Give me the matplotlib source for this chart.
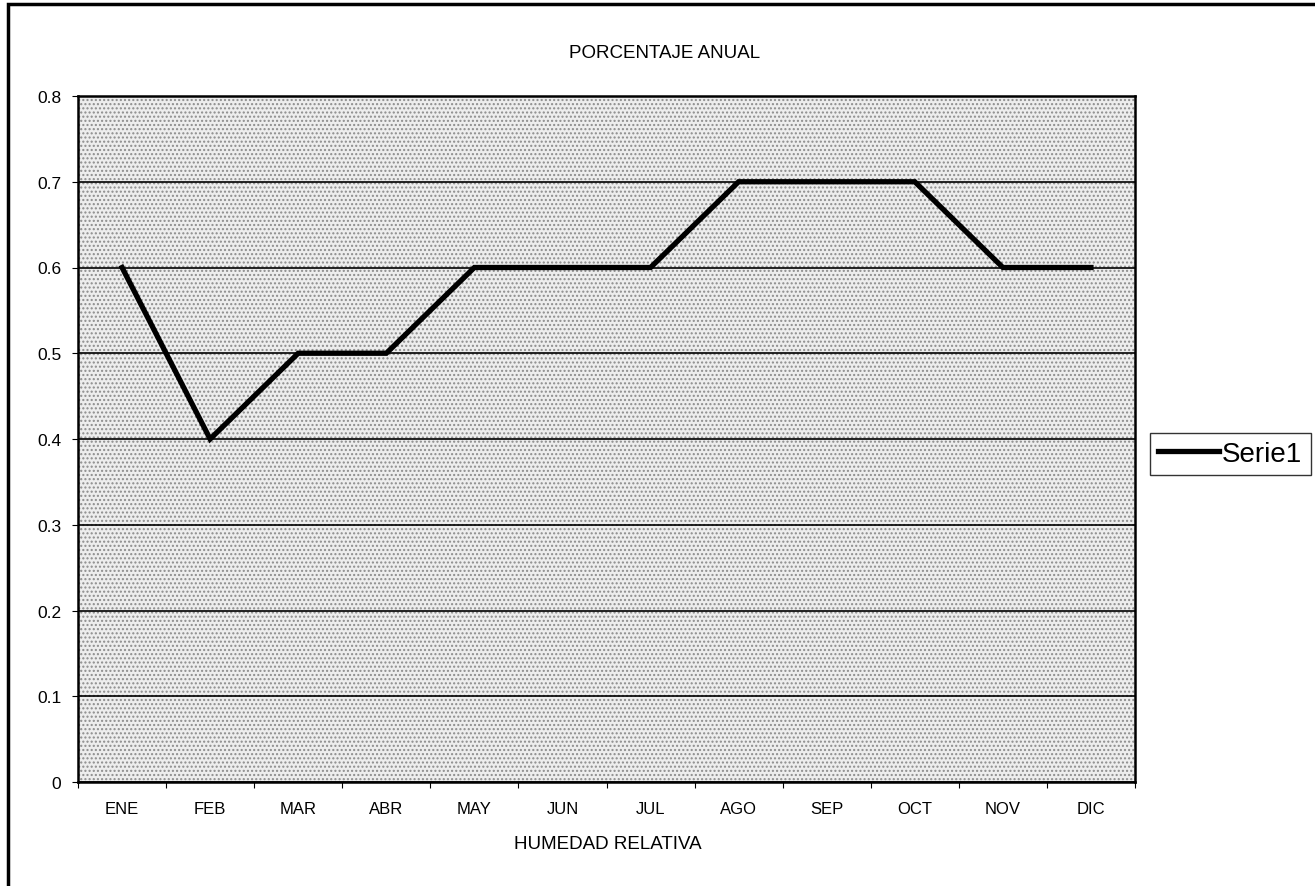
import numpy as np
import matplotlib.pyplot as plt
from matplotlib.patches import Rectangle

meses = ["ENE", "FEB", "MAR", "ABR", "MAY", "JUN", "JUL", "AGO", "SEP", "OCT", "NOV", "DIC"]
serie1 = [0.6, 0.4, 0.5, 0.5, 0.6, 0.6, 0.6, 0.7, 0.7, 0.7, 0.6, 0.6]
y_ticks = [0, 0.1, 0.2, 0.3, 0.4, 0.5, 0.6, 0.7, 0.8]
y_labels = ["0", "0.1", "0.2", "0.3", "0.4", "0.5", "0.6", "0.7", "0.8"]

plt.rcParams["font.family"] = ["Liberation Sans", "DejaVu Sans"]

fig = plt.figure(figsize=(13.15, 8.87), dpi=100)
fig.patch.set_facecolor("white")

# marco exterior
fig.patches.append(Rectangle((8 / 1315, -0.1), 1.2, 1.1 - 5 / 887, transform=fig.transFigure,
                             fill=False, edgecolor="black", linewidth=2.5))

ax = fig.add_axes([78 / 1315, 1 - 783 / 887, (1135 - 78) / 1315, (783 - 97) / 887])
ax.set_facecolor("#ededed")
fondo = Rectangle((0, 0), 1, 1, transform=ax.transAxes, facecolor="none",
                  edgecolor="#8c8c8c", hatch="....", linewidth=0, zorder=0)
ax.add_patch(fondo)

x = np.arange(len(meses))
ax.plot(x, serie1, color="black", linewidth=3.8, solid_joinstyle="miter", label="Serie1", zorder=3)

ax.set_xlim(-0.5, len(meses) - 0.5)
ax.set_ylim(0, 0.8)
ax.set_yticks(y_ticks)
ax.set_yticklabels(y_labels, fontsize=12.5)
ax.set_xticks(x)
ax.set_xticklabels(meses, fontsize=12)
ax.set_xticks(np.arange(len(meses) + 1) - 0.5, minor=True)
ax.tick_params(axis="x", which="major", length=0, pad=14)
ax.tick_params(axis="x", which="minor", length=4, width=0.8)
ax.tick_params(axis="y", length=4, width=0.8, pad=8)
ax.grid(axis="y", color="black", linewidth=1.2, zorder=1)
ax.set_axisbelow(True)
for s in ax.spines.values():
    s.set_linewidth(1.8)
    s.set_color("black")

fig.text(665 / 1315, 1 - 54 / 887, "PORCENTAJE ANUAL", ha="center", va="center", fontsize=13.5)
fig.text(608 / 1315, 1 - 845 / 887, "HUMEDAD RELATIVA", ha="center", va="center", fontsize=13.5)

leg = fig.legend(loc="center left", bbox_to_anchor=(1150 / 1315, 1 - 455 / 887), fontsize=20,
                 frameon=True, fancybox=False, edgecolor="black", handlelength=2.2,
                 handletextpad=0.1, borderpad=0.3, borderaxespad=0)
leg.get_frame().set_linewidth(1.0)

fig.savefig("out.png", dpi=100)
